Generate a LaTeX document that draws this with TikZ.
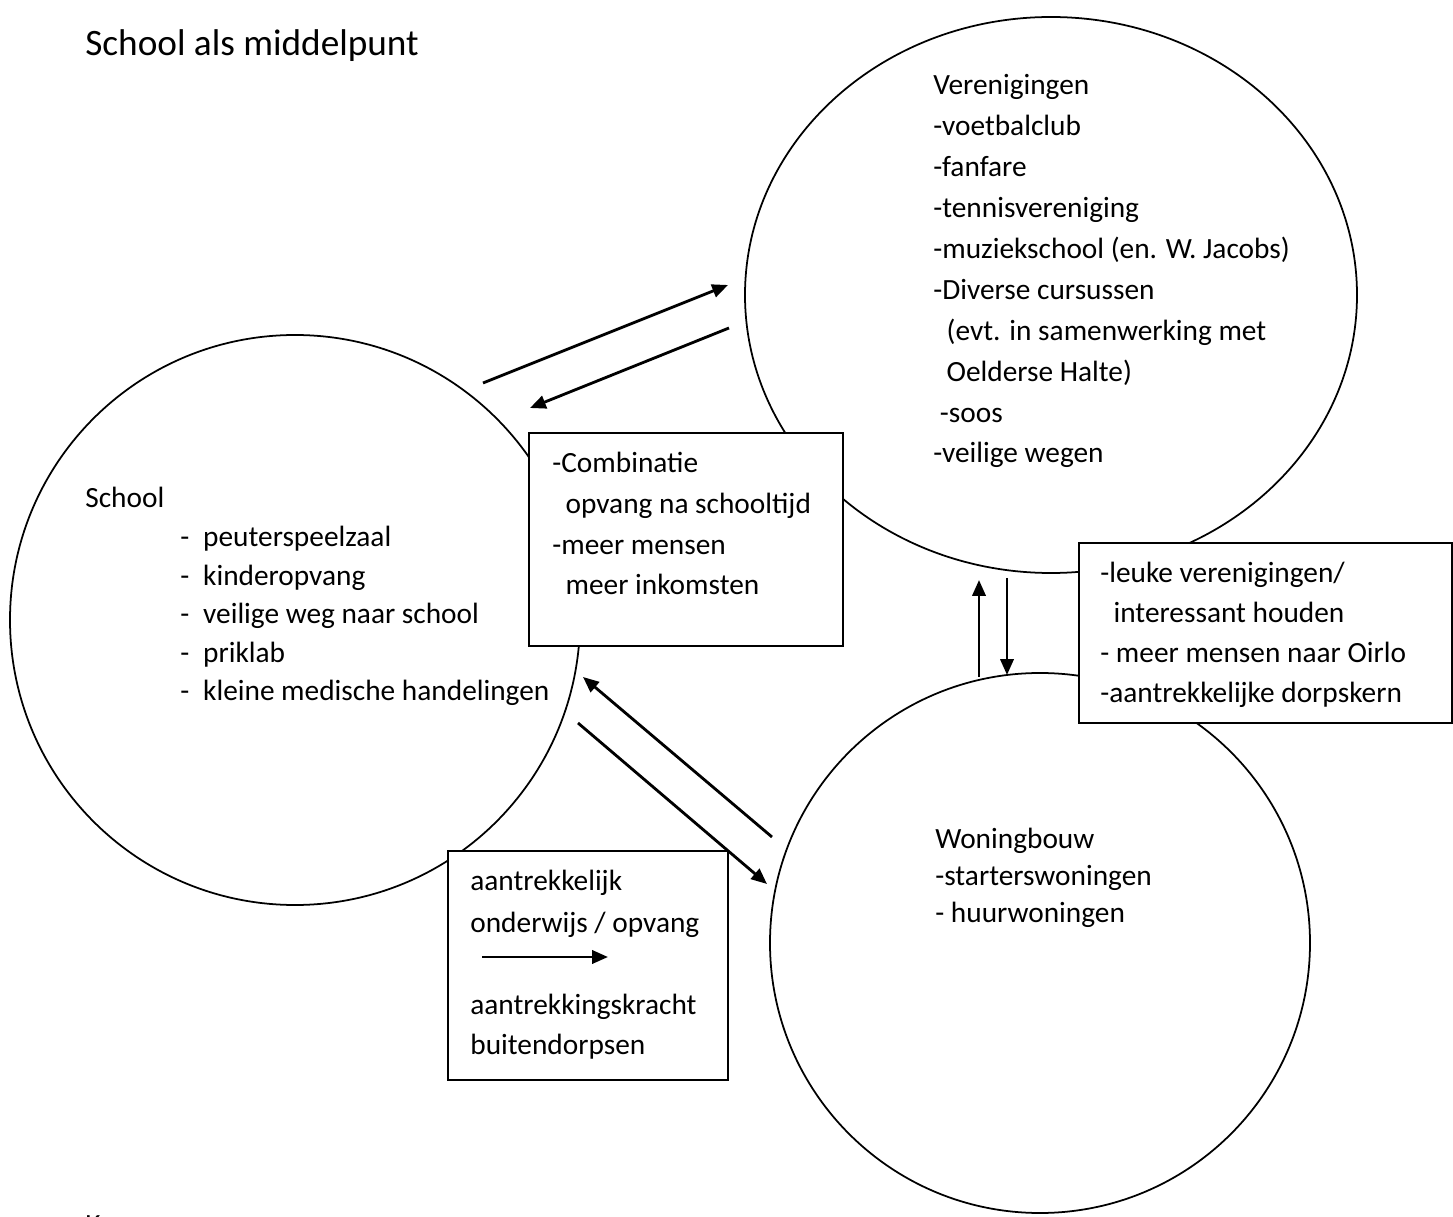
\documentclass[tikz,border=0pt]{standalone}
\usepackage{fontspec}
\setmainfont{Carlito}
\usetikzlibrary{arrows.meta,shapes.geometric}

\begin{document}
\begin{tikzpicture}[font=\fontsize{16.7}{23.3}\selectfont]
\useasboundingbox (0,0) rectangle (29.06,24.32);

\begin{scope}[every node/.style={draw,line width=1pt,inner sep=0pt}]
    \node[circle, minimum size=11.4cm] (school) at (5.90,11.92) {};
    \node[ellipse, minimum width=12.24cm, minimum height=11.12cm] (verenigingen) at (21.02,18.42) {};
    \node[circle, minimum size=10.8cm] (woningbouw) at (20.80,5.46) {};
\end{scope}

\begin{scope}[every node/.style={rectangle,draw,fill=white,line width=1.3pt,inner sep=0pt}]
    \node[minimum width=6.28cm, minimum height=4.26cm] (combinatie) at (13.72,13.53) {};
    \node[minimum width=7.46cm, minimum height=3.60cm] (leuke) at (25.31,11.66) {};
    \node[minimum width=5.60cm, minimum height=4.58cm] (aantrekkelijk) at (11.76,5.01) {};
\end{scope}

% text blocks, placed on the baseline of their last line
\begin{scope}[every node/.style={anchor=base west,align=left,inner sep=0pt}]
    \node[font=\fontsize{21.2}{25}\selectfont] (title) at (1.70,23.20) {School als middelpunt};
    \node (school_kop) at (1.70,14.16) {School};
    \node[font=\fontsize{16.7}{22}\selectfont] (school_lijst) at (3.60,10.30)
        {\makebox[13pt][l]{-}peuterspeelzaal\\
         \makebox[13pt][l]{-}kinderopvang\\
         \makebox[13pt][l]{-}veilige weg naar school\\
         \makebox[13pt][l]{-}priklab\\
         \makebox[13pt][l]{-}kleine medische handelingen};
    \node (vereniging_lijst) at (18.66,15.06)
        {Verenigingen\\
         -voetbalclub\\
         -fanfare\\
         -tennisvereniging\\
         -muziekschool (en. W. Jacobs)\\
         -Diverse cursussen\\
         \ \ (evt. in samenwerking met\\
         \ \ Oelderse Halte)\\
         \ -soos\\
         -veilige wegen};
    \node (combinatie_tekst) at (11.04,12.42)
        {-Combinatie\\
         \ \ opvang na schooltijd\\
         -meer mensen\\
         \ \ meer inkomsten};
    \node[font=\fontsize{16.7}{22.9}\selectfont] (leuke_tekst) at (22.00,10.26)
        {-leuke verenigingen/\\
         \ \ interessant houden\\
         - meer mensen naar Oirlo\\
         -aantrekkelijke dorpskern};
    \node[font=\fontsize{16.7}{23.8}\selectfont] (onderwijs_tekst) at (9.40,5.68)
        {aantrekkelijk\\
         onderwijs / opvang};
    \node[font=\fontsize{16.7}{22.7}\selectfont] (kracht_tekst) at (9.40,3.24)
        {aantrekkingskracht\\
         buitendorpsen};
    \node[font=\fontsize{16.7}{21}\selectfont] (woning_lijst) at (18.70,5.88)
        {Woningbouw\\
         -starterswoningen\\
         - huurwoningen};
    \node (k) at (1.70,-0.36) {K};
\end{scope}

% ends of the connectors
\coordinate (s_v_start) at (9.66,16.66);
\coordinate (s_v_end) at (14.56,18.62);
\coordinate (v_s_start) at (14.58,17.76);
\coordinate (v_s_end) at (10.60,16.16);
\coordinate (w_s_start) at (15.44,7.58);
\coordinate (w_s_end) at (11.66,10.78);
\coordinate (s_w_start) at (11.56,9.86);
\coordinate (s_w_end) at (15.34,6.64);
\coordinate (w_v_start) at (19.58,10.78);
\coordinate (w_v_end) at (19.58,12.72);
\coordinate (v_w_start) at (20.14,12.76);
\coordinate (v_w_end) at (20.14,10.82);
\coordinate (pijl_start) at (9.64,5.18);
\coordinate (pijl_end) at (12.16,5.18);

\begin{scope}[>={Triangle[length=9pt,width=7.5pt]},
              every edge/.style={draw,line width=1.6pt}]
    \path [->] (s_v_start) edge (s_v_end);
    \path [->] (v_s_start) edge (v_s_end);

    \path [->] (w_s_start) edge (w_s_end);
    \path [->] (s_w_start) edge (s_w_end);

    \path [->] (w_v_start) edge (w_v_end);
    \path [->] (v_w_start) edge (v_w_end);

    \path [->] (pijl_start) edge (pijl_end);
\end{scope}
\end{tikzpicture}
\end{document}
